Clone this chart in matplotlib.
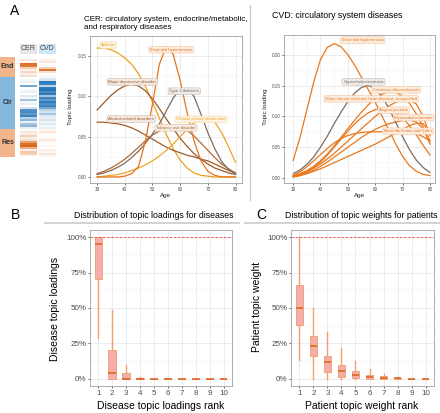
import matplotlib
matplotlib.use("Agg")
import matplotlib.pyplot as plt
import matplotlib.colors as mcolors
from matplotlib.colors import LinearSegmentedColormap
from matplotlib.lines import Line2D
from matplotlib.ticker import FuncFormatter

plt.rcParams['font.family'] = ['Liberation Sans', 'DejaVu Sans']

W, H = 440, 413

# ---------------- data ----------------
ages = [30, 32.5, 35, 37.5, 40, 42.5, 45, 47.5, 50, 52.5, 55,
        57.5, 60, 62.5, 65, 67.5, 70, 72.5, 75, 77.5, 80]

# CER topic, age profile of top diseases
cer_asthma = [0.160, 0.160, 0.158, 0.154, 0.148, 0.140, 0.128, 0.112, 0.093, 0.073, 0.053,
              0.035, 0.021, 0.011, 0.005, 0.002, 0.001, 0.000, 0.000, 0.000, 0.000]
cer_hypertension = [0.000, 0.000, 0.000, 0.000, 0.001, 0.004, 0.013, 0.045, 0.090, 0.140, 0.162,
                    0.152, 0.120, 0.080, 0.045, 0.020, 0.007, 0.002, 0.000, 0.000, 0.000]
cer_depression = [0.083, 0.092, 0.101, 0.108, 0.113, 0.115, 0.113, 0.107, 0.097, 0.085, 0.072,
                  0.060, 0.048, 0.038, 0.029, 0.022, 0.016, 0.011, 0.008, 0.005, 0.003]
cer_diabetes = [0.003, 0.005, 0.008, 0.012, 0.017, 0.024, 0.032, 0.042, 0.053, 0.066, 0.082,
                0.098, 0.109, 0.110, 0.100, 0.078, 0.055, 0.035, 0.019, 0.009, 0.004]
cer_alcohol = [0.068, 0.068, 0.067, 0.066, 0.064, 0.061, 0.057, 0.052, 0.047, 0.042, 0.037,
               0.033, 0.030, 0.027, 0.025, 0.022, 0.020, 0.016, 0.012, 0.008, 0.005]
cer_tobacco = [0.004, 0.007, 0.011, 0.016, 0.022, 0.029, 0.037, 0.045, 0.052, 0.057, 0.061,
               0.063, 0.062, 0.058, 0.051, 0.042, 0.033, 0.024, 0.016, 0.010, 0.005]
cer_airway = [0.000, 0.001, 0.002, 0.003, 0.005, 0.008, 0.011, 0.015, 0.020, 0.026, 0.033,
              0.041, 0.050, 0.059, 0.067, 0.072, 0.073, 0.068, 0.055, 0.037, 0.018]

# CVD topic
cvd_hypertension = [0.028, 0.065, 0.110, 0.155, 0.192, 0.212, 0.218, 0.213, 0.200, 0.183, 0.163,
                    0.143, 0.123, 0.100, 0.078, 0.055, 0.035, 0.020, 0.011, 0.006, 0.004]
cvd_cholesterol = [0.007, 0.013, 0.022, 0.034, 0.050, 0.068, 0.088, 0.107, 0.124, 0.138, 0.147,
                   0.150, 0.145, 0.132, 0.113, 0.090, 0.067, 0.046, 0.029, 0.017, 0.009]
cvd_athero = [0.004, 0.007, 0.012, 0.019, 0.028, 0.039, 0.052, 0.066, 0.080, 0.094, 0.107,
              0.119, 0.129, 0.136, 0.140, 0.139, 0.133, 0.121, 0.104, 0.083, 0.060]
cvd_ischemic = [0.003, 0.006, 0.010, 0.016, 0.023, 0.031, 0.040, 0.050, 0.060, 0.070, 0.080,
                0.090, 0.100, 0.109, 0.117, 0.123, 0.127, 0.127, 0.120, 0.100, 0.068]
cvd_angina = [0.002, 0.005, 0.010, 0.017, 0.026, 0.037, 0.050, 0.063, 0.076, 0.088, 0.098,
              0.106, 0.111, 0.113, 0.112, 0.107, 0.098, 0.085, 0.070, 0.053, 0.037]
cvd_infarction = [0.002, 0.004, 0.008, 0.013, 0.019, 0.026, 0.034, 0.042, 0.050, 0.058, 0.066,
                  0.073, 0.079, 0.084, 0.088, 0.091, 0.093, 0.094, 0.091, 0.080, 0.055]
cvd_fibrillation = [0.002, 0.004, 0.007, 0.011, 0.015, 0.020, 0.025, 0.030, 0.035, 0.040, 0.045,
                    0.050, 0.055, 0.061, 0.067, 0.073, 0.079, 0.085, 0.089, 0.088, 0.075]
cvd_other = [0.004, 0.010, 0.018, 0.028, 0.038, 0.048, 0.057, 0.064, 0.069, 0.072, 0.074,
             0.075, 0.075, 0.075, 0.075, 0.075, 0.075, 0.074, 0.072, 0.067, 0.060]

cer_lines = [
    ("Asthma", cer_asthma, "#e8a31c"),
    ("Major depressive disorder", cer_depression, "#9c5a2c"),
    ("Alcohol-related disorders", cer_alcohol, "#a35d2b"),
    ("Tobacco use disorder", cer_tobacco, "#b5692f"),
    ("Type 2 diabetes", cer_diabetes, "#7e6b5e"),
    ("Chronic airway obstruction", cer_airway, "#f0a52a"),
    ("Essential hypertension", cer_hypertension, "#e8731a"),
]
cvd_lines = [
    ("Atrial fibrillation and flutter", cvd_fibrillation, "#e8781c"),
    (None, cvd_other, "#e8781c"),
    ("Myocardial infarction", cvd_infarction, "#e8781c"),
    ("Angina pectoris", cvd_angina, "#e8781c"),
    ("Other chronic ischemic heart disease, unspecified", cvd_ischemic, "#e8781c"),
    ("Coronary atherosclerosis", cvd_athero, "#e8781c"),
    ("Hypercholesterolemia", cvd_cholesterol, "#7e6b5e"),
    ("Essential hypertension", cvd_hypertension, "#e8781c"),
]

# where the repelled labels sit (age, loading)
cer_label_pos = {
    "Asthma": (34.0, 0.1635),
    "Essential hypertension": (56.7, 0.158),
    "Major depressive disorder": (42.8, 0.118),
    "Type 2 diabetes": (61.5, 0.1065),
    "Alcohol-related disorders": (42.4, 0.072),
    "Tobacco use disorder": (58.5, 0.061),
    "Chronic airway obstruction": (67.5, 0.0715),
}
cvd_label_pos = {
    "Essential hypertension": (55.4, 0.2237),
    "Hypercholesterolemia": (55.7, 0.156),
    "Coronary atherosclerosis": (67.5, 0.143),
    "Other chronic ischemic heart disease, unspecified": (58.6, 0.1285),
    "Angina pectoris": (66.7, 0.110),
    "Myocardial infarction": (74.0, 0.098),
    "Atrial fibrillation and flutter": (72.0, 0.076),
}

# heatmap of disease loadings (rows = diseases, grouped by chapter)
group_names = ["End", "Cir", "Res"]
group_sizes = [10, 26, 14]
heat_columns = ["CER", "CVD"]
cer_heat = [0.00, 0.15, 0.05, 0.90, 0.85, 0.30, 0.10, 0.25, 0.10, 0.20,
            0.00, 0.05, 0.10, 0.00, 0.60, 0.00, 0.05, 0.10, 0.00, 0.15,
            0.05, 0.40, 0.05, 0.10, 0.00, 0.20, 0.75, 0.80, 0.70, 0.85,
            0.30, 0.50, 0.10, 0.40, 0.50, 0.10,
            0.05, 0.15, 0.10, 0.30, 0.10, 0.20, 0.60, 0.90, 0.95, 0.50,
            0.10, 0.35, 0.30, 0.05]
cvd_heat = [0.00, 0.10, 0.15, 0.00, 0.05, 0.30, 0.85, 0.20, 0.00, 0.05,
            0.10, 0.20, 0.90, 0.85, 0.30, 0.90, 0.95, 0.80, 0.90, 0.40,
            0.85, 0.70, 0.90, 0.75, 0.85, 0.60, 0.30, 0.20, 0.40, 0.15,
            0.10, 0.20, 0.05, 0.15, 0.05, 0.10,
            0.05, 0.15, 0.05, 0.00, 0.05, 0.15, 0.05, 0.00, 0.05, 0.00,
            0.10, 0.05, 0.15, 0.05]

# box summaries
ranks = [1, 2, 3, 4, 5, 6, 7, 8, 9, 10]
dis_q1 = [0.708, 0, 0, 0, 0, 0, 0, 0, 0, 0]
dis_med = [0.953, 0.042, 0, 0, 0, 0, 0, 0, 0, 0]
dis_q3 = [1.0, 0.203, 0.040, 0.006, 0, 0, 0, 0, 0, 0]
dis_lo = [0.287, 0, 0, 0, 0, 0, 0, 0, 0, 0]
dis_hi = [1.0, 0.486, 0.095, 0.010, 0, 0, 0, 0, 0, 0]

pat_q1 = [0.38, 0.165, 0.046, 0.011, 0.007, 0.0, 0.0, 0.0, 0.0, 0.0]
pat_med = [0.50, 0.233, 0.116, 0.053, 0.025, 0.010, 0.006, 0.003, 0.0, 0.0]
pat_q3 = [0.66, 0.30, 0.163, 0.095, 0.053, 0.030, 0.018, 0.008, 0.001, 0.0]
pat_lo = [0.135, 0.0, 0.0, 0.0, 0.0, 0.0, 0.0, 0.0, 0.0, 0.0]
pat_hi = [1.0, 0.497, 0.333, 0.217, 0.128, 0.072, 0.037, 0.014, 0.002, 0.0]


# ---------------- helpers ----------------
def px_axes(fig, left, top, right, bottom):
    return fig.add_axes([left / W, 1 - bottom / H, (right - left) / W, (bottom - top) / H])


def fig_text(fig, x, y, s, **kw):
    return fig.text(x / W, 1 - y / H, s, **kw)


def tint(color, amount):
    r, g, b = mcolors.to_rgb(color)
    return (r + (1 - r) * amount, g + (1 - g) * amount, b + (1 - b) * amount)


def gg_axes(ax, labelsize):
    ax.set_facecolor("white")
    for s in ax.spines.values():
        s.set_color("#a0a0a0")
        s.set_linewidth(0.6)
    ax.grid(True, which="major", color="#e4e4e4", linewidth=0.5)
    ax.grid(True, which="minor", color="#f2f2f2", linewidth=0.35)
    ax.set_axisbelow(True)
    ax.tick_params(which="major", length=1.6, width=0.5, color="#333333",
                   labelsize=labelsize, labelcolor="#4d4d4d", pad=1)
    ax.tick_params(which="minor", length=0)


def age_panel(ax, lines, label_pos, ylim, yticks):
    for name, vals, col in lines:
        ax.plot(ages, vals, color=col, lw=0.9, solid_capstyle="round")
    for name, vals, col in lines:
        if name is None:
            continue
        x, y = label_pos[name]
        ax.text(x, y, name, fontsize=3.1, color=col, ha="center", va="center",
                clip_on=False, zorder=5,
                bbox=dict(boxstyle="round,pad=0.3,rounding_size=0.4",
                          fc=tint(col, 0.87), ec=tint(col, 0.55), lw=0.4))
    gg_axes(ax, 3.3)
    ax.set_xlim(27.5, 82.3)
    ax.set_ylim(*ylim)
    ax.set_xticks([30, 40, 50, 60, 70, 80])
    ax.set_xticks([35, 45, 55, 65, 75], minor=True)
    ax.set_yticks(yticks)
    ax.set_yticks([t + 0.025 for t in yticks], minor=True)
    ax.yaxis.set_major_formatter(FuncFormatter(lambda v, p: f"{v:.2f}"))


def box_panel(ax, q1, med, q3, lo, hi):
    stats = [dict(q1=a, med=m, q3=b, whislo=l, whishi=h)
             for a, m, b, l, h in zip(q1, med, q3, lo, hi)]
    ax.bxp(stats, positions=ranks, widths=0.55, showfliers=False, showcaps=False,
           patch_artist=True,
           boxprops=dict(facecolor="#f5aeab", edgecolor="#efa577", linewidth=0.7),
           medianprops=dict(color="#e0661f", linewidth=1.2),
           whiskerprops=dict(color="#efa070", linewidth=1.0))
    ax.axhline(1.0, color="#f0483c", lw=0.6, ls=(0, (3, 2)))
    gg_axes(ax, 5.8)
    ax.set_xlim(0.4, 10.6)
    ax.set_ylim(-0.05, 1.05)
    ax.set_xticks(ranks)
    ax.set_xticklabels([str(r) for r in ranks])
    ax.set_yticks([0, 0.25, 0.5, 0.75, 1.0])
    ax.set_yticks([0.125, 0.375, 0.625, 0.875], minor=True)
    ax.set_yticklabels(["0%", "25%", "50%", "75%", "100%"])
    ax.grid(False, axis="x", which="minor")


# ---------------- figure ----------------
fig = plt.figure(figsize=(W / 100, H / 100), dpi=100)
fig.patch.set_facecolor("white")

# panel letters
fig_text(fig, 15, 11, "A", fontsize=10, ha="center", va="center")
fig_text(fig, 16, 215, "B", fontsize=10, ha="center", va="center")
fig_text(fig, 261, 215, "C", fontsize=10, ha="center", va="center")

# --- heatmap strip ---
n_rows = sum(group_sizes)
band_colors = {"End": "#f1b48b", "Cir": "#83b7dc", "Res": "#f1b48b"}
cmaps = {"End": LinearSegmentedColormap.from_list("o", ["#ffffff", "#d9600f"]),
         "Cir": LinearSegmentedColormap.from_list("b", ["#ffffff", "#1b6cb2"]),
         "Res": LinearSegmentedColormap.from_list("o2", ["#ffffff", "#d9600f"])}
row_group = []
for g, n in zip(group_names, group_sizes):
    row_group += [g] * n

ax_band = px_axes(fig, 0, 57, 15, 157)
start = 0
for g, n in zip(group_names, group_sizes):
    ax_band.axhspan(start, start + n, color=band_colors[g], lw=0)
    ax_band.text(0.5, start + n / 2, g, ha="center", va="center", fontsize=5,
                 fontweight="bold", color="#333333")
    start += n
ax_band.set_xlim(0, 1)
ax_band.set_ylim(n_rows, 0)
ax_band.axis("off")

ax_heat = px_axes(fig, 19, 57, 57, 157)
for j, vals in enumerate([cer_heat, cvd_heat]):
    cols = [cmaps[g](v) for g, v in zip(row_group, vals)]
    ax_heat.barh(range(n_rows), 0.9, left=j - 0.45, height=0.85, color=cols, lw=0)
ax_heat.set_xlim(-0.5, 1.5)
ax_heat.set_ylim(n_rows - 0.5, -0.5)
ax_heat.axis("off")

ax_head = px_axes(fig, 19, 44, 57, 54)
ax_head.bar([0, 1], 1, width=0.92, color=["#e6e6e6", "#cfe6f6"], lw=0)
for j, name in enumerate(heat_columns):
    ax_head.text(j, 0.5, name, ha="center", va="center", fontsize=5, color="#444444")
ax_head.set_xlim(-0.5, 1.5)
ax_head.set_ylim(0, 1)
ax_head.axis("off")

# --- CER age panel ---
fig_text(fig, 84, 23.5, "CER: circulatory system, endocrine/metabolic,\nand respiratory diseases",
         fontsize=5.8, ha="left", va="center", linespacing=1.2)
ax_cer = px_axes(fig, 90, 36, 242, 183)
age_panel(ax_cer, cer_lines, cer_label_pos, (-0.0075, 0.170), [0.0, 0.05, 0.10, 0.15])
fig_text(fig, 166, 195, "Age", fontsize=4.5, ha="center", va="center", color="#222222")
fig_text(fig, 70, 107, "Topic loading", fontsize=4.5, ha="center", va="center",
         rotation=90, color="#222222")

# separator
fig.add_artist(Line2D([250 / W, 250 / W], [1 - 5 / H, 1 - 200 / H], color="#c4c4c4", lw=0.8))

# --- CVD age panel ---
fig_text(fig, 272, 15, "CVD: circulatory system diseases", fontsize=6.3, ha="left", va="center")
ax_cvd = px_axes(fig, 284, 35, 435, 183)
age_panel(ax_cvd, cvd_lines, cvd_label_pos, (-0.008, 0.232), [0.0, 0.05, 0.10, 0.15, 0.20])
ax_cvd.set_xlim(26.7, 81.8)
fig_text(fig, 360, 195, "Age", fontsize=4.5, ha="center", va="center", color="#222222")
fig_text(fig, 265.5, 107, "Topic loading", fontsize=4.5, ha="center", va="center",
         rotation=90, color="#222222")

# --- B ---
fig_text(fig, 154, 215, "Distribution of topic loadings for diseases", fontsize=6.3,
         ha="center", va="center")
fig.add_artist(Line2D([45 / W, 239 / W], [1 - 223 / H] * 2, color="#d3d3d3", lw=1.4))
ax_b = px_axes(fig, 90, 230, 232, 386)
box_panel(ax_b, dis_q1, dis_med, dis_q3, dis_lo, dis_hi)
fig_text(fig, 161, 406, "Disease topic loadings rank", fontsize=7.5, ha="center", va="center")
fig_text(fig, 55, 309, "Disease topic loadings", fontsize=7.5, ha="center", va="center",
         rotation=90)

# --- C ---
fig_text(fig, 361, 215, "Distribution of topic weights for patients", fontsize=6.3,
         ha="center", va="center")
fig.add_artist(Line2D([245 / W, 440 / W], [1 - 223 / H] * 2, color="#d3d3d3", lw=1.4))
ax_c = px_axes(fig, 291, 230, 434, 386)
box_panel(ax_c, pat_q1, pat_med, pat_q3, pat_lo, pat_hi)
fig_text(fig, 362, 406, "Patient topic weight rank", fontsize=7.5, ha="center", va="center")
fig_text(fig, 257, 307, "Patient topic weight", fontsize=7.5, ha="center", va="center",
         rotation=90)

fig.savefig("out.png", dpi=100, facecolor="white")
